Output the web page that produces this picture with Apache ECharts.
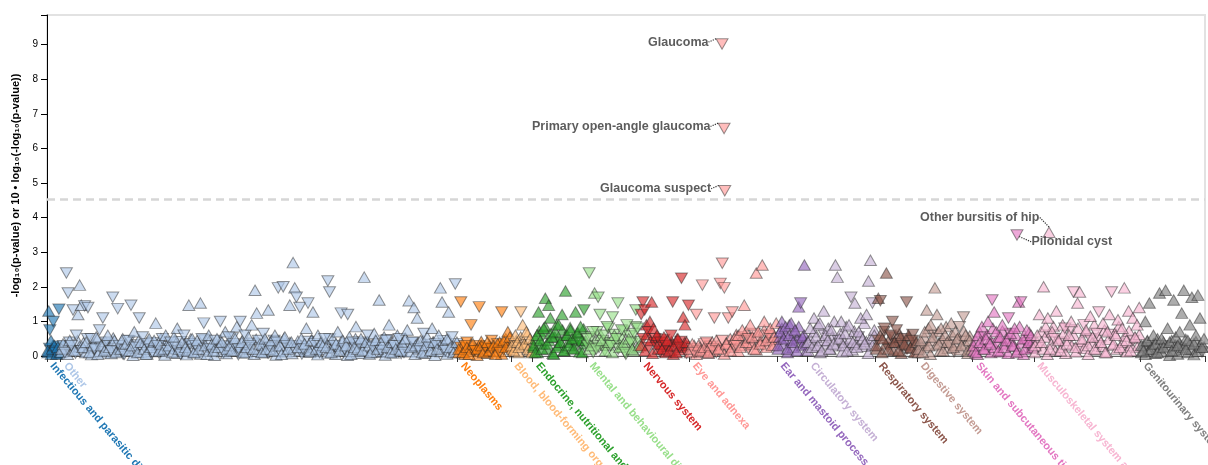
<!DOCTYPE html>
<html>
<head>
<meta charset="utf-8">
<title>PheWAS</title>
<script src="https://cdn.jsdelivr.net/npm/echarts@6/dist/echarts.min.js"></script>
<style>
  html, body { margin: 0; padding: 0; background: #fff; }
  #chart { width: 1208px; height: 465px; }
</style>
</head>
<body>
<div id="chart"></div>
<script>
// Phenotype categories, in plotting order
const categories = [
  'Infectious and parasitic diseases',
  'Other',
  'Neoplasms',
  'Blood, blood-forming organs and immune mechanism',
  'Endocrine, nutritional and metabolic diseases',
  'Mental and behavioural disorders',
  'Nervous system',
  'Eye and adnexa',
  'Ear and mastoid process',
  'Circulatory system',
  'Respiratory system',
  'Digestive system',
  'Skin and subcutaneous tissue',
  'Musculoskeletal system and connective tissue',
  'Genitourinary system'
];

// Number of phenotypes tested in each category (sets each category's span on the x axis)
const phenotypeCounts = [20, 583, 78, 32, 79, 79, 72, 129, 44, 100, 62, 81, 90, 156, 95];

// Association strength per phenotype, left to right within each category.
// Magnitude = -log10(p); sign = direction of effect (negative = lower risk, drawn as a down-pointing triangle).
const infectious = [0.15, 1.3, -0.75, 0.45, 0.2, -1.0, 0.3, -0.1, 0.05, 0.25, -1.35, 0.1];
const other = [
  0.2, 0.35, -0.1, -2.4, -1.82, 0.45, -0.3, -1.33, 0.15, -0.6, 1.2, 2.05, 1.47, 0.25, -1.45, 0.4, -1.4, 0.1, -0.5, 0.3,
  -0.2, 0.55, 0.05, -0.75, 0.3, -1.1, 0.15, -0.4, 0.6, 0.25, -0.15, -1.7, 0.45, 0.1, -1.37, -0.3, 0.2, 0.5, -0.05, 0.35,
  -0.45, 0.15, -1.47, 0.3, 0.7, -0.25, 0.1, -1.1, 0.4, -0.55, 0.2, 0.05, -0.35, 0.5, 0.25, -0.1, 0.45, 0.95, -0.3, 0.15,
  0.35, -0.5, 0.2, 0.6, -0.15, 0.3, -0.4, 0.1, 0.55, -0.25, 0.8, 0.2, -0.05, 0.4, -0.6, 0.25, 0.15, 1.47, -0.35, 0.5,
  0.1, -0.3, 0.45, 0.2, 1.53, -0.5, -0.95, 0.3, 0.05, 0.6, -0.2, 0.35, 0.15, -0.45, 0.5, 0.25, -1.0, 0.4, -0.1, 0.7,
  0.2, -0.55, 0.3, 0.15, -0.35, 0.5, 0.85, -0.2, -1.0, 0.4, 0.1, -0.6, 0.25, 0.55, -0.3, 0.9, 0.2, 1.9, 1.24, -0.45,
  0.35, 0.1, -0.65, 0.5, 0.2, 1.33, -0.25, 0.45, 0.15, 0.6, -0.4, -1.97, 0.3, 0.05, -2.0, 0.55, -0.3, 0.2, 1.47, 0.4,
  2.7, 1.97, -1.7, 0.25, -1.4, 0.5, -0.2, 0.35, 0.8, -1.53, 0.15, 0.45, 1.27, -0.35, 0.2, 0.6, -0.1, 0.4, 0.3, -0.5,
  0.25, -2.17, -1.85, 0.1, 0.5, -0.3, 0.35, 0.7, 0.15, -1.24, 0.45, -0.2, 0.3, -1.2, 0.55, 0.05, -0.4, 0.25, 0.85, 0.2,
  -0.35, 0.5, 0.15, 2.28, 0.4, -0.6, 0.3, 0.1, -0.25, 0.65, 0.45, 0.2, 1.62, -0.15, 0.35, 0.55, -0.45, 0.25, 0.9, 0.1,
  0.4, -0.3, 0.2, 0.6, -0.5, 0.15, 0.35, -0.1, 0.5, 0.75, 1.6, 0.25, -0.4, 1.4, 0.3, 1.1, -0.2, 0.45, 0.1, -0.65,
  0.3, 0.55, -0.25, 0.15, 0.8, 0.4, -0.35, 0.2, 0.6, 1.97, 1.56, 0.35, -0.15, 0.5, 1.27, 0.25, -0.55, 0.1, -2.08, 0.4
];
const neoplasms = [0.2, -1.56, 0.1, -0.3, 0.25, 0.05, -0.9, 0.35, -0.15, 0.2, -1.42, 0.3, 0.1, -0.25, 0.4, 0.15, -0.2, 0.3, 0.05, 0.35, -0.1, -1.27, 0.45, 0.25, 0.7, 0.55];
const blood = [0.3, 0.15, 0.6, 0.4, 0.25, -1.27, 0.9, 0.35, 0.7, 0.2, 0.5, 0.1];
const endocrine = [0.3, 0.1, 0.6, 1.27, 0.45, 0.2, 0.8, 1.67, 0.35, 1.47, 1.1, 0.55, 0.05, 0.7, 0.25, 0.9, 0.4, 1.2, 0.15, 1.88, 0.6, 0.3, 0.75, 0.5, 0.2, 1.27, 0.65, -0.4, 0.85, 0.1, -1.33, 0.45];
const mental = [-0.5, -2.4, 0.3, -0.7, 1.82, -0.2, -1.7, -1.2, 0.45, -0.6, 0.15, -0.85, 0.4, -0.3, -1.13, 0.6, -0.5, -1.53, 0.25, -0.75, 0.35, -0.1, -0.9, 0.5, -0.4, 0.2, -0.65, -1.33, -0.8, 0.3];
const nervous = [-1.2, -1.56, -1.33, 0.9, -0.7, 1.0, 1.56, 0.8, -0.5, 0.6, 0.35, -0.4, 0.2, 0.55, -0.3, 0.45, 0.15, -0.6, -1.56, 0.3, 0.1, 0.5, -0.25, -2.25, 1.13, 0.9, 0.4, -1.47];
const eye = [0.2, 0.35, -0.1, -1.2, 0.3, 0.15, -2.05, 0.25, -0.4, 0.1, 0.3, -0.2, -1.1, 0.45, 0.2, -2.1, -2.68, -1.97, 0.35, -1.1, 0.15, -1.27, 0.5, -0.3, 0.6, 0.25, 0.75, 1.47, 0.4, -0.5, 0.9, 0.55, 0.2, 2.4, 0.7, 0.35, 2.63, 1.0, 0.45, -0.6, 0.8, 0.3, 0.55, 0.95];
const ear = [0.3, 0.7, 1.0, 0.5, 0.85, 0.2, 0.6, 0.95, 0.4, 0.75, 0.15, 1.42, -1.53, 0.55, 2.63, 0.35];
const circulatory = [0.4, 0.8, 0.25, 1.1, 0.55, 0.3, 0.95, 0.15, 1.3, 0.6, 0.45, 0.2, 0.75, 0.35, 2.63, 2.28, 0.5, 1.0, 0.3, 0.65, 0.15, 0.9, -1.7, 0.4, 1.53, 0.25, 0.7, 1.1, 0.5, 0.35, 1.2, 2.17, 2.77, -1.53, 0.6];
const respiratory = [0.3, 1.67, -1.6, 0.5, -0.8, 2.4, 0.2, -0.6, -1.0, 0.4, -0.75, 0.15, 0.55, -0.3, 0.35, -1.56, 0.6, 0.25, -0.45, 0.1, 0.4];
const digestive = [0.2, 0.45, 0.1, 0.7, 1.33, 0.3, 0.9, 0.55, 1.97, 1.2, 0.35, 0.8, 0.15, 0.6, 0.4, -0.3, 0.95, 0.25, 0.7, 0.5, -0.85, 0.3, -1.13, 0.6, 0.15, 0.45, 0.2];
const skin = [0.3, 0.1, 0.6, 0.4, 0.85, 0.2, 0.5, 1.0, 0.35, -1.62, 1.27, 0.7, 0.15, 0.55, 0.9, 0.25, 0.45, -1.1, 0.65, 0.3, 0.8, 0.1, 1.56, -1.56, 0.5, 0.2, 0.75, 0.4, 0.6, 0.25];
const musculoskeletal = [0.3, 0.6, 1.2, 0.4, 2.0, 0.85, 1.1, 0.2, 0.7, -0.5, 1.3, 0.45, 0.15, 0.9, -0.8, 0.35, 0.6, 1.0, -1.85, 0.25, 1.53, 1.85, 0.5, -0.9, 0.75, 0.3, 1.15, 0.55, 0.2, -0.65, -1.27, 0.4, 0.95, 0.1, 0.7, 1.2, -1.85, 0.35, 0.6, 1.05, 0.25, 0.8, 1.97, 0.45, 1.3, 0.15, 1.1, 0.55, 0.9, 1.4];
const genitourinary = [0.3, 0.15, 1.0, 0.45, 1.53, 0.2, 0.6, 0.35, 0.1, 1.82, 0.5, 0.25, 1.9, 0.8, 0.4, 0.15, 1.62, 0.55, 0.3, 0.7, 1.24, 1.9, 0.2, 0.45, 0.9, 1.7, 0.35, 0.6, 1.76, 1.1, 0.25, 0.5];

// The many weak (non-significant) associations within each category, same convention
const infectiousWeak = [0.1, -0.22, 0.05, 0.3, -0.15, 0.2, 0.08, -0.28];
const otherWeak = [
  0.12, -0.3, 0.22, 0.05, -0.4, 0.33, 0.18, -0.08, 0.45, 0.27, -0.15, 0.38, 0.1, -0.5, 0.24, 0.04, 0.35, -0.2, 0.48, 0.14,
  -0.26, 0.09, 0.42, 0.2, -0.34, 0.07, 0.52, 0.3, -0.12, 0.19, 0.4, -0.05, 0.28, 0.16, -0.44, 0.36, 0.02, 0.23, -0.32, 0.47,
  0.11, 0.34, -0.21, 0.06, 0.43, 0.25, -0.38, 0.13, 0.31, -0.09, 0.5, 0.17, 0.03, -0.27, 0.39, 0.22, -0.14, 0.46, 0.08, 0.29,
  -0.41, 0.15, 0.26, 0.04, -0.33, 0.49, 0.2, 0.1, -0.24, 0.37, 0.06, 0.3, -0.46, 0.18, 0.41, -0.11, 0.25, 0.02, 0.35, -0.19,
  0.44, 0.13, -0.29, 0.07, 0.38, 0.22, -0.52, 0.16, 0.32, -0.04, 0.27, 0.45, -0.17, 0.09, 0.34, 0.21, -0.37, 0.05, 0.48, 0.14,
  -0.23, 0.31, 0.1, 0.42, -0.08, 0.19, 0.36, -0.45, 0.03, 0.28, 0.16, -0.34, 0.51, 0.12, -0.2, 0.39, 0.07, 0.24, -0.3, 0.43,
  0.15, -0.06, 0.33, 0.21, -0.42, 0.11, 0.47, 0.26, -0.13, 0.04, 0.37, 0.18, -0.28, 0.4, 0.09, -0.49, 0.23, 0.32, 0.05, -0.16,
  0.29, 0.44, -0.1, 0.2, 0.02, -0.36, 0.35, 0.13, 0.5, -0.22, 0.08, 0.27, -0.4, 0.17, 0.41, 0.06, -0.31, 0.24, 0.46, 0.11,
  -0.18, 0.38, 0.14, 0.03, -0.47, 0.3, 0.22, 0.09, -0.25, 0.43, 0.16, -0.07, 0.34, 0.52, -0.2, 0.12, 0.28, -0.39, 0.05, 0.36,
  0.21, -0.14, 0.45, 0.08, 0.31, -0.33, 0.17, 0.4, 0.02, -0.26, 0.37, 0.13, -0.44, 0.24, 0.06, 0.48, -0.11, 0.29, 0.19, -0.35
];
const neoplasmsWeak = [0.1, -0.25, 0.3, 0.05, -0.4, 0.18, 0.35, -0.12, 0.22, 0.02, -0.3, 0.42, 0.15, -0.2, 0.08, 0.32, -0.45, 0.25, 0.12, -0.35, 0.4, 0.06, -0.18, 0.5, 0.28, -0.1];
const bloodWeak = [0.2, -0.35, 0.45, 0.1, 0.55, -0.25, 0.3, 0.62, 0.15, 0.4];
const endocrineWeak = [0.25, 0.5, 0.1, 0.72, 0.35, -0.6, 0.85, 0.2, 0.45, 0.65, 0.08, 0.55, 0.9, 0.3, -0.4, 0.75, 0.15, 0.6, 0.4, 0.82, 0.22, 0.5, -0.3, 0.68, 0.12, 0.45, 0.78, 0.35];
const mentalWeak = [-0.3, 0.2, -0.55, -0.1, 0.42, -0.7, -0.25, 0.6, -0.45, -0.15, 0.32, -0.8, -0.38, 0.1, -0.62, 0.5, -0.2, -0.48, 0.28, -0.72, -0.05, 0.4, -0.58, -0.35, 0.15, -0.85, 0.25, -0.42];
const nervousWeak = [0.3, -0.5, 0.15, 0.62, -0.25, 0.45, 0.08, -0.38, 0.55, 0.2, -0.12, 0.35, -0.48, 0.1, 0.28, -0.2, 0.42, 0.05, -0.32, 0.5, 0.18, -0.42, 0.25, 0.38, -0.08, 0.3];
const eyeWeak = [0.1, -0.2, 0.3, 0.05, -0.15, 0.25, 0.12, -0.35, 0.2, 0.08, -0.28, 0.4, 0.15, -0.1, 0.32, 0.22, -0.45, 0.06, 0.38, -0.18, 0.5, 0.26, -0.3, 0.62, 0.14, 0.45, -0.55, 0.3, 0.7, -0.22, 0.52, 0.35, -0.65, 0.18, 0.6, 0.42, -0.28, 0.75, 0.25, 0.55, -0.4, 0.68, 0.32, 0.48];
const earWeak = [0.2, 0.55, 0.8, 0.35, 0.65, 0.1, 0.9, 0.45, 0.25, 0.7, 0.5, 0.85, -0.4, 0.3, 0.6, 0.15];
const circulatoryWeak = [0.15, 0.5, -0.3, 0.7, 0.25, 0.9, 0.1, 0.45, -0.6, 0.35, 0.8, 0.2, 0.55, 1.0, 0.3, -0.45, 0.65, 0.12, 0.4, 0.85, -0.25, 0.5, 0.18, 0.72, 0.35, -0.55, 0.6, 0.28, 0.95, 0.42, 0.08, 0.5, 0.3, 0.75];
const respiratoryWeak = [0.2, -0.45, 0.6, 0.1, -0.7, 0.35, -0.25, 0.5, -0.55, 0.15, 0.4, -0.35, 0.65, 0.08, -0.5, 0.3, -0.2, 0.55, 0.22, -0.62, 0.45, 0.12];
const digestiveWeak = [0.1, 0.35, -0.2, 0.55, 0.25, 0.8, 0.05, 0.45, -0.6, 0.3, 0.7, 0.15, 0.5, -0.35, 0.85, 0.22, 0.4, 0.62, -0.12, 0.3, 0.52, 0.18, -0.45, 0.72, 0.35, 0.08, 0.58, 0.28];
const skinWeak = [0.15, 0.45, 0.05, 0.7, 0.3, -0.55, 0.2, 0.62, 0.4, 0.1, 0.8, 0.25, -0.35, 0.55, 0.12, 0.72, 0.35, 0.5, 0.08, -0.65, 0.42, 0.28, 0.6, 0.18, 0.85, 0.38, 0.05, 0.52, -0.3, 0.68, 0.22, 0.45];
const musculoskeletalWeak = [0.1, 0.4, -0.25, 0.7, 0.2, 0.55, 0.05, -0.6, 0.35, 0.85, 0.15, 0.5, -0.4, 0.25, 0.65, 0.08, 0.45, -0.75, 0.3, 0.6, 0.12, 0.8, -0.2, 0.42, 0.22, 0.7, 0.05, -0.5, 0.38, 0.9, 0.18, 0.55, -0.3, 0.28, 0.75, 0.1, 0.48, -0.62, 0.32, 0.65, 0.2, 0.85, -0.15, 0.4, 0.58, 0.12, 0.72, 0.3, -0.45, 0.52, 0.25, 0.62];
const genitourinaryWeak = [0.1, 0.3, 0.05, 0.42, 0.18, -0.25, 0.35, 0.08, 0.5, 0.22, 0.12, 0.4, -0.3, 0.28, 0.02, 0.45, 0.15, 0.32, 0.06, 0.38, -0.2, 0.25, 0.48, 0.1, 0.35, 0.2, 0.04, 0.42, 0.14, 0.3, -0.12, 0.26];

// Top hits that carry a text label
const annotatedNames = ['Glaucoma', 'Primary open-angle glaucoma', 'Glaucoma suspect', 'Pilonidal cyst', 'Other bursitis of hip'];
const annotatedCategory = [7, 7, 7, 12, 13];
const annotatedIndex = [991, 994, 995, 1424, 1471];
const annotatedValues = [-9.02, -6.58, -4.78, -3.5, 3.58];

// Bonferroni threshold: -log10(0.05 / 1700)
const threshold = 4.53;

const yTickLabels = [0, 1, 2, 3, 4, 5, 6, 7, 8, 9];
const yMax = 9.86;

// ---- drawing ----
const categoryValues = [infectious, other, neoplasms, blood, endocrine, mental, nervous, eye, ear,
  circulatory, respiratory, digestive, skin, musculoskeletal, genitourinary];
const categoryWeak = [infectiousWeak, otherWeak, neoplasmsWeak, bloodWeak, endocrineWeak, mentalWeak, nervousWeak,
  eyeWeak, earWeak, circulatoryWeak, respiratoryWeak, digestiveWeak, skinWeak, musculoskeletalWeak, genitourinaryWeak];
const palette = ['#1f77b4', '#aec7e8', '#ff7f0e', '#ffbb78', '#2ca02c', '#98df8a', '#d62728', '#ff9896',
  '#9467bd', '#c5b0d5', '#8c564b', '#c49c94', '#e377c2', '#f7b6d2', '#7f7f7f'];
const FONT = '"Liberation Sans", Arial, Helvetica, sans-serif';

function rgba(hex, a) {
  const n = parseInt(hex.slice(1), 16);
  return 'rgba(' + (n >> 16) + ',' + ((n >> 8) & 255) + ',' + (n & 255) + ',' + a + ')';
}

const groupStart = [];
let acc = 0;
phenotypeCounts.forEach(c => { groupStart.push(acc); acc += c; });
const total = acc;
const boundaries = groupStart.concat([total]);

const TRI = [12, 10.5];
const pointStyle = k => ({ color: rgba(palette[k], 0.8), borderColor: 'rgba(35,35,35,0.6)', borderWidth: 1 });

// spread one list of phenotypes evenly across its category's span
function place(vals, k) {
  const step = phenotypeCounts[k] / vals.length;
  return vals.map((v, j) => ({
    value: [groupStart[k] + (j + 0.5) * step, Math.abs(v)],
    symbolRotate: v < 0 ? 180 : 0
  }));
}

const series = categories.map((name, k) => ({
  type: 'scatter',
  name: name,
  symbol: 'triangle',
  symbolSize: TRI,
  silent: true,
  itemStyle: pointStyle(k),
  data: place(categoryWeak[k], k).concat(place(categoryValues[k], k)),
  z: 2
}));

// Significance threshold line
series[0].markLine = {
  silent: true,
  symbol: 'none',
  label: { show: false },
  lineStyle: { color: '#d6d6d6', width: 2.5, type: [8, 5] },
  data: [{ yAxis: threshold }],
  z: 1
};

// Placement of the labels of the annotated hits
const labelPlacement = {
  'Glaucoma': { position: 'left', dx: -3, dy: -2 },
  'Primary open-angle glaucoma': { position: 'left', dx: -3, dy: -2 },
  'Glaucoma suspect': { position: 'left', dx: -3, dy: -2 },
  'Pilonidal cyst': { position: 'right', dx: 4, dy: 7 },
  'Other bursitis of hip': { position: 'left', dx: 1, dy: -15 }
};

series.push({
  type: 'scatter',
  name: 'annotated',
  symbol: 'triangle',
  symbolSize: TRI,
  silent: true,
  z: 5,
  data: annotatedNames.map((nm, i) => ({
    name: nm,
    value: [annotatedIndex[i], Math.abs(annotatedValues[i])],
    symbolRotate: annotatedValues[i] < 0 ? 180 : 0,
    itemStyle: pointStyle(annotatedCategory[i]),
    label: {
      show: true,
      position: labelPlacement[nm].position,
      distance: 4,
      formatter: nm,
      color: '#333',
      fontWeight: 'bold',
      fontSize: 12.5,
      fontFamily: FONT
    }
  })),
  labelLine: { show: true, lineStyle: { type: 'dotted', color: '#333', width: 1.2 } },
  labelLayout: p => {
    const pl = labelPlacement[annotatedNames[p.dataIndex]];
    return { dx: pl.dx, dy: pl.dy };
  }
});

const rich = {};
palette.forEach((c, k) => {
  rich['g' + k] = { color: c, fontWeight: 'bold', fontSize: 11, fontFamily: FONT };
});
const categoryLabel = v => {
  const k = groupStart.indexOf(v);
  return k < 0 ? '' : '{g' + k + '|' + categories[k] + '}';
};
const labelCommon = {
  show: true,
  showMinLabel: true,
  showMaxLabel: true,
  rotate: -50,
  margin: 2,
  padding: [0, 0, 0, 8],
  formatter: categoryLabel,
  rich: rich,
  hideOverlap: false
};

const chart = echarts.init(document.getElementById('chart'), null, { renderer: 'canvas' });
chart.setOption({
  animation: false,
  backgroundColor: '#fff',
  grid: {
    left: 47, right: 3, top: 15, bottom: 109,
    containLabel: false,
    outerBoundsMode: 'none',
    show: true,
    borderColor: '#e2e2e2',
    borderWidth: 2,
    backgroundColor: 'transparent'
  },
  xAxis: [{
    // axis with boundary ticks and the labels of all categories but the first
    type: 'value',
    position: 'bottom',
    min: 0,
    max: total,
    splitLine: { show: false },
    axisLine: { show: true, lineStyle: { color: '#666', width: 1 } },
    axisTick: { show: true, length: 6, customValues: boundaries, lineStyle: { color: '#333' } },
    axisLabel: Object.assign({ customValues: groupStart.slice(1) }, labelCommon)
  }, {
    // first category's label
    type: 'value',
    position: 'bottom',
    min: 0,
    max: total,
    splitLine: { show: false },
    axisLine: { show: false },
    axisTick: { show: false },
    axisLabel: Object.assign({ customValues: [0] }, labelCommon)
  }],
  yAxis: {
    type: 'value',
    min: 0,
    max: yMax,
    interval: 1,
    name: '-log\u2081\u2080(p-value) or 10 \u2022 log\u2081\u2080(-log\u2081\u2080(p-value))',
    nameLocation: 'middle',
    nameGap: 22,
    nameTextStyle: { fontWeight: 'bold', fontSize: 11, color: '#000', fontFamily: FONT },
    splitLine: { show: false },
    axisLine: { show: true, lineStyle: { color: '#000', width: 1 } },
    axisTick: { show: true, length: 6, customValues: yTickLabels.concat([yMax]), lineStyle: { color: '#000' } },
    axisLabel: {
      customValues: yTickLabels,
      margin: 9,
      fontSize: 10,
      color: '#000',
      fontFamily: FONT
    }
  },
  series: series
});
</script>
</body>
</html>
